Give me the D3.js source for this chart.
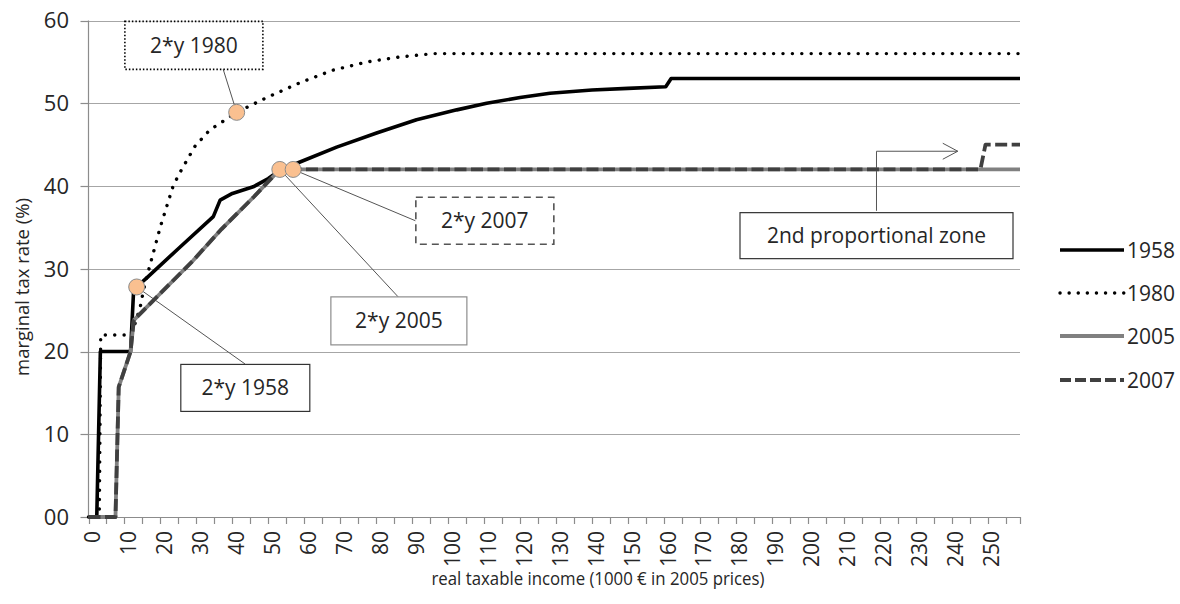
<!DOCTYPE html>
<html>
  <head>
    <script src="https://d3js.org/d3.v7.min.js"></script>
  </head>
  <style type="text/css">
    body { margin: 0; background: #fff; }
    svg { font-family: "Open Sans", sans-serif; }
    .grid line { stroke: #a6a6a6; stroke-width: 1.2px; }
    .axis line, .axis path { stroke: #8c8c8c; stroke-width: 1.2px; fill: none; }
    .tick-label { font-size: 21px; fill: #262626; }
    .ytick { font-size: 22px; }
    .title { font-size: 19px; fill: #262626; }
    .note rect { fill: #fff; }
    .note text { font-size: 21px; fill: #262626; }
    .connector { stroke: #555; stroke-width: 1px; fill: none; }
    .marker { fill: #fac090; stroke: #8c8c8c; stroke-width: 1px; }
  </style>
  <body>
  <div id="chart"></div>
  <script type="text/javascript">

    // income (1000 EUR, 2005 prices) and marginal rate (%)
    var x1958 = [0, 2.3, 3.3, 11.7, 12.5, 13.4, 16.2, 25.4, 34.7, 36.6, 40, 45.8, 50, 53.2, 58.8, 69, 80.1, 91.2, 102.4, 110.7, 120, 128.3, 140, 150, 160.5, 162, 259];
    var y1958 = [0, 0, 20, 20, 27, 27.8, 28.9, 32.6, 36.3, 38.3, 39.1, 39.9, 40.9, 41.9, 42.9, 44.7, 46.4, 48.0, 49.2, 50, 50.7, 51.2, 51.6, 51.8, 52, 53, 53];

    var x1980 = [0, 3, 3.4, 11.7, 12.8, 14.4, 15.3, 16.7, 20, 23.6, 25.9, 29.6, 33.8, 37, 41.2, 49.6, 58.9, 68, 77.5, 86.7, 96, 259];
    var y1980 = [0, 0, 22, 22, 23.2, 25.4, 27.4, 29.8, 35.1, 40.1, 42, 44.8, 46.8, 47.7, 48.9, 50.7, 52.5, 54, 55, 55.6, 56, 56];

    var x2005 = [0, 7.5, 8.4, 11.7, 12.6, 29.1, 37, 46, 53.2, 259];
    var y2005 = [0, 0, 15.7, 20, 23.8, 31, 34.8, 38.7, 42, 42];

    var x2007 = [0, 7.5, 8.4, 11.7, 12.6, 29.1, 37, 46, 53.2, 248, 249.4, 259];
    var y2007 = [0, 0, 15.7, 20, 23.8, 31, 34.8, 38.7, 42, 42, 45, 45];

    var seriesNames = ["1958", "1980", "2005", "2007"];

    // "2*y" points (twice the average income) per year
    var markerYears = ["1958", "1980", "2005", "2007"];
    var markerX = [13.4, 41.2, 53.2, 56.9];
    var markerY = [27.8, 48.9, 42, 42];

    var yTicks = [0, 10, 20, 30, 40, 50, 60];
    var yTickLabels = ["00", "10", "20", "30", "40", "50", "60"];
    var xLabelTicks = d3.range(0, 251, 10);
    var xMinorTicks = d3.range(0, 256, 5);

    var width = 1180;
    var height = 604;

    var svg = d3.select("#chart")
      .append("svg")
        .attr("width", width)
        .attr("height", height);

    var x = d3.scaleLinear().domain([0, 259]).range([88.5, 1020]);
    var y = d3.scaleLinear().domain([0, 60]).range([517, 20.5]);

    // gridlines
    svg.append("g")
      .attr("class", "grid")
      .selectAll("line")
      .data(yTicks.slice(1))
      .enter()
      .append("line")
        .attr("x1", x(0))
        .attr("x2", x(259))
        .attr("y1", function(d) { return Math.round(y(d)) + 0.5; })
        .attr("y2", function(d) { return Math.round(y(d)) + 0.5; });

    // y axis
    var yAxis = svg.append("g").attr("class", "axis");
    yAxis.append("line")
      .attr("x1", x(0)).attr("x2", x(0))
      .attr("y1", y(60)).attr("y2", y(0));
    yAxis.selectAll(".yt")
      .data(yTicks)
      .enter()
      .append("line")
        .attr("x1", x(0) - 8).attr("x2", x(0))
        .attr("y1", function(d) { return Math.round(y(d)) + 0.5; })
        .attr("y2", function(d) { return Math.round(y(d)) + 0.5; });
    yAxis.selectAll("text")
      .data(yTicks)
      .enter()
      .append("text")
        .attr("class", "tick-label ytick")
        .attr("x", 69)
        .attr("y", function(d) { return y(d); })
        .attr("dy", "0.36em")
        .attr("text-anchor", "end")
        .text(function(d, i) { return yTickLabels[i]; });

    // x axis
    var xAxis = svg.append("g").attr("class", "axis");
    xAxis.append("line")
      .attr("x1", x(0)).attr("x2", x(259))
      .attr("y1", y(0) + 0.5).attr("y2", y(0) + 0.5);
    xAxis.selectAll(".xt")
      .data(xMinorTicks.concat([259]))
      .enter()
      .append("line")
        .attr("x1", function(d) { return Math.round(x(d)) + 0.5; })
        .attr("x2", function(d) { return Math.round(x(d)) + 0.5; })
        .attr("y1", y(0))
        .attr("y2", y(0) + 7);
    xAxis.selectAll("text")
      .data(xLabelTicks)
      .enter()
      .append("text")
        .attr("class", "tick-label")
        .attr("transform", function(d) { return "translate(" + (x(d) + 4) + "," + 531 + ") rotate(-90)"; })
        .attr("dy", "0.36em")
        .attr("text-anchor", "end")
        .text(function(d) { return d; });

    // narrow, Calibri-like titles
    svg.append("text")
      .attr("class", "title")
      .attr("x", 598)
      .attr("y", 585)
      .attr("text-anchor", "middle")
      .attr("textLength", 333)
      .attr("lengthAdjust", "spacingAndGlyphs")
      .text("real taxable income (1000 € in 2005 prices)");

    svg.append("text")
      .attr("class", "title")
      .attr("transform", "translate(22,287) rotate(-90)")
      .attr("dy", "0.36em")
      .attr("text-anchor", "middle")
      .attr("textLength", 178)
      .attr("lengthAdjust", "spacingAndGlyphs")
      .text("marginal tax rate (%)");

    // lines
    var line = d3.line()
      .x(function(d) { return x(d[0]); })
      .y(function(d) { return y(d[1]); });

    var series = [
      { name: "1958", xs: x1958, ys: y1958, stroke: "#000", width: 3.6, dash: null, cap: "butt" },
      { name: "1980", xs: x1980, ys: y1980, stroke: "#000", width: 3.4, dash: "0.1 9.3", cap: "round" },
      { name: "2005", xs: x2005, ys: y2005, stroke: "#808080", width: 3.8, dash: null, cap: "butt" },
      { name: "2007", xs: x2007, ys: y2007, stroke: "#404040", width: 3.8, dash: "12 4.5", cap: "butt" }
    ];

    // annotation boxes, centre in data units
    var notes = [
      { text: "2*y 1980", cx: 29.3, cy: 57.0, w: 138, h: 48, stroke: "#000", dash: "1.5 2", link: [36.8, 55.0, 1] },
      { text: "2*y 2007", cx: 110.2, cy: 35.8, w: 138, h: 47, stroke: "#555", dash: "7 5", link: [90.9, 35.8, 3] },
      { text: "2*y 2005", cx: 86.3, cy: 23.7, w: 136, h: 48, stroke: "#8c8c8c", dash: null, link: [86.1, 26.6, 2] },
      { text: "2*y 1958", cx: 43.6, cy: 15.6, w: 129, h: 47, stroke: "#333", dash: null, link: [43.5, 18.5, 0] },
      { text: "2nd proportional zone", cx: 219.1, cy: 34.0, w: 273, h: 46, stroke: "#333", dash: null, link: null }
    ];

    // connector lines under everything
    var conn = svg.append("g");
    notes.forEach(function(n) {
      if (!n.link) return;
      var m = n.link[2];
      conn.append("line")
        .attr("class", "connector")
        .attr("x1", x(markerX[m])).attr("y1", y(markerY[m]))
        .attr("x2", x(n.link[0])).attr("y2", y(n.link[1]));
    });

    // elbow arrow for the 2nd proportional zone
    conn.append("path")
      .attr("class", "connector")
      .attr("d", d3.line()([
        [x(219.1), y(37)], [x(219.1), y(44.2)], [x(241.7), y(44.2)]
      ]));
    conn.append("path")
      .attr("class", "connector")
      .attr("d", d3.line()([
        [x(241.7) - 15, y(44.2) - 8], [x(241.7), y(44.2)], [x(241.7) - 15, y(44.2) + 8]
      ]));

    series.forEach(function(s) {
      svg.append("path")
        .datum(d3.zip(s.xs, s.ys))
        .attr("fill", "none")
        .attr("stroke", s.stroke)
        .attr("stroke-width", s.width)
        .attr("stroke-dasharray", s.dash)
        .attr("stroke-linecap", s.cap)
        .attr("stroke-linejoin", "round")
        .attr("d", line);
    });

    // markers
    svg.selectAll(".marker")
      .data(markerYears)
      .enter()
      .append("circle")
        .attr("class", "marker")
        .attr("cx", function(d, i) { return x(markerX[i]); })
        .attr("cy", function(d, i) { return y(markerY[i]); })
        .attr("r", 8);

    // boxes
    var note = svg.selectAll(".note")
      .data(notes)
      .enter()
      .append("g")
        .attr("class", "note")
        .attr("transform", function(d) { return "translate(" + x(d.cx) + "," + y(d.cy) + ")"; });
    note.append("rect")
      .attr("x", function(d) { return -d.w / 2; })
      .attr("y", function(d) { return -d.h / 2; })
      .attr("width", function(d) { return d.w; })
      .attr("height", function(d) { return d.h; })
      .attr("stroke", function(d) { return d.stroke; })
      .attr("stroke-width", function(d) { return d.dash ? 1.6 : 1.2; })
      .attr("stroke-dasharray", function(d) { return d.dash; });
    note.append("text")
      .attr("text-anchor", "middle")
      .attr("dy", "0.36em")
      .text(function(d) { return d.text; });

    // legend
    var legend = svg.append("g")
      .attr("transform", "translate(1060,250)");
    var row = legend.selectAll("g")
      .data(series)
      .enter()
      .append("g")
        .attr("transform", function(d, i) { return "translate(0," + [0, 43, 86, 130][i] + ")"; });
    row.append("line")
      .attr("x1", 0).attr("x2", 64)
      .attr("stroke", function(d) { return d.stroke; })
      .attr("stroke-width", function(d) { return d.width; })
      .attr("stroke-dasharray", function(d) { return d.name == "1980" ? "0.1 9" : (d.name == "2007" ? "11 4" : null); })
      .attr("stroke-linecap", function(d) { return d.cap; });
    row.append("text")
      .attr("class", "tick-label")
      .attr("x", 67)
      .attr("dy", "0.36em")
      .text(function(d) { return d.name; });

  </script>
  </body>
</html>
